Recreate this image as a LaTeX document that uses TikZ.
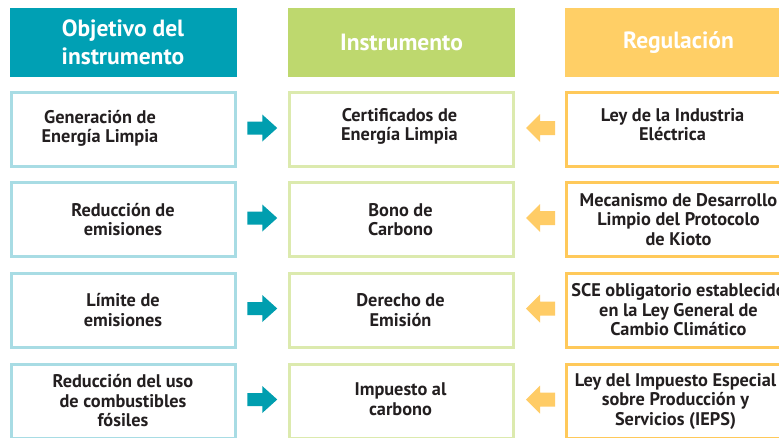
\documentclass[tikz,border=0pt]{standalone}
\usepackage{fontspec}
\setmainfont{PT Sans}
\usetikzlibrary{calc}
\definecolor{tealH}{HTML}{00A0B4}
\definecolor{greenH}{HTML}{BED86E}
\definecolor{yellowH}{HTML}{FFCF66}
\definecolor{tealB}{HTML}{A8DCE4}
\definecolor{greenB}{HTML}{DCEAAE}
\definecolor{yellowB}{HTML}{FFC95A}
\definecolor{tealA}{HTML}{009EAF}
\definecolor{yellowA}{HTML}{FFCC66}
\definecolor{txtc}{HTML}{231F20}
\begin{document}
\begin{tikzpicture}[x=1pt,y=-1pt,
 hdr/.style={minimum width=227pt,minimum height=68.5pt,inner sep=0pt,text=white,
   font=\fontsize{23.5}{28.5}\selectfont\bfseries,align=center},
 box/.style={minimum width=224pt,minimum height=74pt,line width=3pt,fill=white,inner sep=0pt},
 tbox/.style={box,draw=tealB},
 gbox/.style={box,draw=greenB},
 ybox/.style={box,draw=yellowB},
 tx/.style={text=txtc,font=\fontsize{18.3}{19.5}\selectfont\bfseries,align=center,inner sep=0pt},
 rarr/.pic={\fill[tealA] (-15,-6.5) -- (0,-6.5) -- (0,-13.5) -- (15,0) -- (0,13.5) -- (0,6.5) -- (-15,6.5) -- cycle;},
 larr/.pic={\fill[yellowA] (15,-7) -- (0,-7) -- (0,-14) -- (-14,0) -- (0,14) -- (0,7) -- (15,7) -- cycle;},
]
\useasboundingbox (0,0) rectangle (779,437);
\clip (0,0) rectangle (779,437);
\fill[white] (0,0) rectangle (779,437);

% headers
\node[hdr,fill=tealH] (h1) at (123,42.5) {Objetivo del\\instrumento};
\node[hdr,fill=greenH] (h2) at (401.5,42.5) {Instrumento};
\node[hdr,fill=yellowH] (h3) at (678.5,42.5) {Regulación};

% row 1
\node[tbox,label={[tx,xshift=-23pt,yshift=1pt]center:Generación de\\Energía Limpia}] (o1) at (123,129.5) {};
\node[gbox,label={[tx,xshift=-2pt,yshift=3pt]center:Certificados de\\Energía Limpia}] (i1) at (401.5,129.5) {};
\node[ybox,label={[tx,xshift=-6pt,yshift=5pt]center:Ley de la Industria\\Eléctrica}] (r1) at (678.5,129.5) {};
% row 2
\node[tbox,label={[tx]center:Reducción de\\emisiones}] (o2) at (123,219.5) {};
\node[gbox,label={[tx,xshift=-1pt]center:Bono de\\Carbono}] (i2) at (401.5,219.5) {};
\node[ybox,label={[tx]center:Mecanismo de Desarrollo\\Limpio del Protocolo\\de Kioto}] (r2) at (678.5,219.5) {};
% row 3
\node[tbox,label={[tx]center:Límite de\\emisiones}] (o3) at (123,310) {};
\node[gbox,label={[tx,xshift=-1pt]center:Derecho de\\Emisión}] (i3) at (401.5,310) {};
\node[ybox,label={[tx]center:SCE obligatorio establecido\\en la Ley General de\\Cambio Climático}] (r3) at (678.5,310) {};
% row 4
\node[tbox,label={[tx]center:Reducción del uso\\de combustibles\\fósiles}] (o4) at (123,401) {};
\node[gbox,label={[tx,xshift=-1pt,yshift=2pt]center:Impuesto al\\carbono}] (i4) at (401.5,401) {};
\node[ybox,label={[tx,xshift=-3pt]center:Ley del Impuesto Especial\\sobre Producción y\\Servicios (IEPS)}] (r4) at (678.5,401) {};

% arrows
\foreach \k in {1,2,3,4}{
  \coordinate (ta\k) at ($(o\k.east)!0.5!(i\k.west)$);
  \coordinate (ya\k) at ($(i\k.east)!0.5!(r\k.west)$);
  \pic at ($(ta\k)+(0,-1.5)$) {rarr};
  \pic at ($(ya\k)+(0,-1.5)$) {larr};
}
\end{tikzpicture}
\end{document}
